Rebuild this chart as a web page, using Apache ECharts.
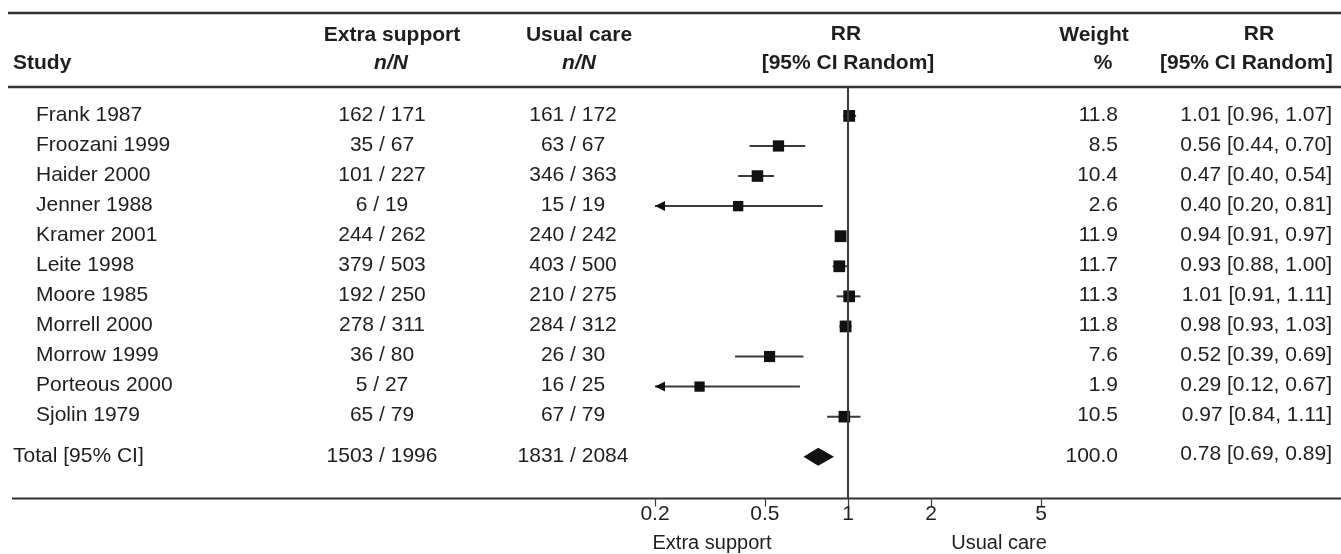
<!DOCTYPE html>
<html lang="en">
<head>
<meta charset="UTF-8">
<title>Forest plot</title>
<script src="https://cdn.jsdelivr.net/npm/echarts@6/dist/echarts.min.js"></script>
<style>
    *{margin:0;padding:0;}
    #main{width:1341px;height:554px;background:#fff;}
</style>
</head>
<body>
<div id="main"></div>
<script>
// table data
var studies = ['Frank 1987','Froozani 1999','Haider 2000','Jenner 1988','Kramer 2001','Leite 1998',
               'Moore 1985','Morrell 2000','Morrow 1999','Porteous 2000','Sjolin 1979'];
var extraN = ['162 / 171','35 / 67','101 / 227','6 / 19','244 / 262','379 / 503',
              '192 / 250','278 / 311','36 / 80','5 / 27','65 / 79'];
var usualN = ['161 / 172','63 / 67','346 / 363','15 / 19','240 / 242','403 / 500',
              '210 / 275','284 / 312','26 / 30','16 / 25','67 / 79'];
var weights = [11.8, 8.5, 10.4, 2.6, 11.9, 11.7, 11.3, 11.8, 7.6, 1.9, 10.5];
var rr     = [1.01, 0.56, 0.47, 0.40, 0.94, 0.93, 1.01, 0.98, 0.52, 0.29, 0.97];
var ciLow  = [0.96, 0.44, 0.40, 0.20, 0.91, 0.88, 0.91, 0.93, 0.39, 0.12, 0.84];
var ciHigh = [1.07, 0.70, 0.54, 0.81, 0.97, 1.00, 1.11, 1.03, 0.69, 0.67, 1.11];

var totalLabel = 'Total [95% CI]';
var totalExtra = '1503 / 1996';
var totalUsual = '1831 / 2084';
var totalWeight = 100.0;
var totalRR = 0.78, totalLow = 0.69, totalHigh = 0.89;

var tickValues = [0.2, 0.5, 1, 2, 5];

// ---- rows for the custom series: [rr, low, high, rowIndex, weight, isTotal]
var rows = [];
for (var i = 0; i < studies.length; i++) {
    rows.push([rr[i], ciLow[i], ciHigh[i], i, weights[i], 0]);
}
rows.push([totalRR, totalLow, totalHigh, studies.length + 1 / 3, totalWeight, 1]);

var FONT = '"Liberation Sans", Arial, sans-serif';
var FS = 21;
var INK = '#1e1e1e';
var LINE = '#3a3a3a';

function rrText(a, b, c) {
    return a.toFixed(2) + ' [' + b.toFixed(2) + ', ' + c.toFixed(2) + ']';
}

function font(size, bold, italic) {
    return (italic ? 'italic ' : '') + (bold ? 'bold ' : '') + size + 'px ' + FONT;
}

function txt(s, x, y, align) {
    return {
        type: 'text',
        style: {text: s, x: x, y: y, fill: INK, font: font(FS), align: align, verticalAlign: 'middle'}
    };
}

function head(s, x, y, align, italic) {
    return {
        type: 'text', x: x, y: y,
        style: {text: s, fill: INK, font: font(FS, true, italic), align: align, verticalAlign: 'middle'}
    };
}

function renderRow(params, api) {
    var idx = params.dataIndex;
    var isTotal = api.value(5) === 1;
    var row = api.value(3);
    var y = api.coord([1, row])[1];
    var ty = y - 1;
    var xMin = tickValues[0];
    var lowRaw = api.value(1);
    var pLo = api.coord([Math.max(lowRaw, xMin), row])[0];
    var pHi = api.coord([api.value(2), row])[0];
    var pC = api.coord([api.value(0), row])[0];
    var children = [];

    if (isTotal) {
        children.push(txt(totalLabel, 13, ty, 'left'));
        children.push(txt(totalExtra, 382, ty, 'center'));
        children.push(txt(totalUsual, 573, ty, 'center'));
        children.push(txt(totalWeight.toFixed(1), 1118, ty, 'right'));
        children.push(txt(rrText(totalRR, totalLow, totalHigh), 1332, ty - 2, 'right'));
        children.push({
            type: 'polygon',
            shape: {points: [[pLo, y], [pC, y - 9], [pHi, y], [pC, y + 9]]},
            style: {fill: '#111'}
        });
    } else {
        children.push(txt(studies[idx], 36, ty, 'left'));
        children.push(txt(extraN[idx], 382, ty, 'center'));
        children.push(txt(usualN[idx], 573, ty, 'center'));
        children.push(txt(weights[idx].toFixed(1), 1118, ty, 'right'));
        children.push(txt(rrText(rr[idx], ciLow[idx], ciHigh[idx]), 1332, ty, 'right'));
        children.push({
            type: 'line',
            shape: {x1: pLo, y1: y, x2: pHi, y2: y},
            style: {stroke: LINE, lineWidth: 2}
        });
        if (lowRaw <= xMin) {
            children.push({
                type: 'polygon',
                shape: {points: [[pLo, y], [pLo + 10, y - 5], [pLo + 10, y + 5]]},
                style: {fill: '#111'}
            });
        }
        var s = 10 + api.value(4) * 0.15;
        children.push({
            type: 'rect',
            shape: {x: pC - s / 2, y: y - s / 2, width: s, height: s},
            style: {fill: '#111'}
        });
    }
    return {type: 'group', children: children};
}

var myChart = echarts.init(document.getElementById('main'));

var option = {
    animation: false,
    backgroundColor: '#fff',
    textStyle: {fontFamily: FONT},
    grid: {left: 655, right: 300, top: 87, bottom: 55.5},
    xAxis: {
        type: 'log',
        min: tickValues[0],
        max: tickValues[tickValues.length - 1],
        axisLine: {show: false, onZero: false},
        splitLine: {show: false},
        axisTick: {show: true, customValues: tickValues, length: 8, lineStyle: {color: LINE, width: 1.2}},
        axisLabel: {
            customValues: tickValues,
            color: INK, fontSize: 21, margin: 5,
            formatter: function (v) { return String(Math.round(v * 10) / 10); }
        }
    },
    yAxis: {
        type: 'value', inverse: true, min: -0.96, max: 12.72, show: false
    },
    series: [{
        type: 'custom',
        renderItem: renderRow,
        encode: {x: [0, 1, 2], y: 3},
        data: rows,
        clip: false,
        markLine: {
            silent: true,
            symbol: 'none',
            label: {show: false},
            lineStyle: {color: LINE, width: 2, type: 'solid'},
            data: [{xAxis: 1}]
        }
    }],
    graphic: [
        {type: 'line', shape: {x1: 8, y1: 13, x2: 1341, y2: 13}, style: {stroke: '#333', lineWidth: 2.5}},
        {type: 'line', shape: {x1: 8, y1: 87, x2: 1341, y2: 87}, style: {stroke: '#333', lineWidth: 2.5}},
        {type: 'line', shape: {x1: 12, y1: 498.5, x2: 1341, y2: 498.5}, style: {stroke: '#333', lineWidth: 2}},
        head('Study', 13, 63, 'left'),
        head('Extra support', 392, 35, 'center'),
        head('n/N', 391, 63, 'center', true),
        head('Usual care', 579, 35, 'center'),
        head('n/N', 579, 63, 'center', true),
        head('RR', 846, 34, 'center'),
        head('[95% CI Random]', 848, 63, 'center'),
        head('Weight', 1094, 35, 'center'),
        head('%', 1103, 63, 'center'),
        head('RR', 1259, 34, 'center'),
        head('[95% CI Random]', 1160, 63, 'left'),
        {type: 'text', x: 712, y: 543, style: {text: 'Extra support', font: font(20), fill: INK, align: 'center', verticalAlign: 'middle'}},
        {type: 'text', x: 999, y: 543, style: {text: 'Usual care', font: font(20), fill: INK, align: 'center', verticalAlign: 'middle'}}
    ]
};

myChart.setOption(option);
</script>
</body>
</html>
